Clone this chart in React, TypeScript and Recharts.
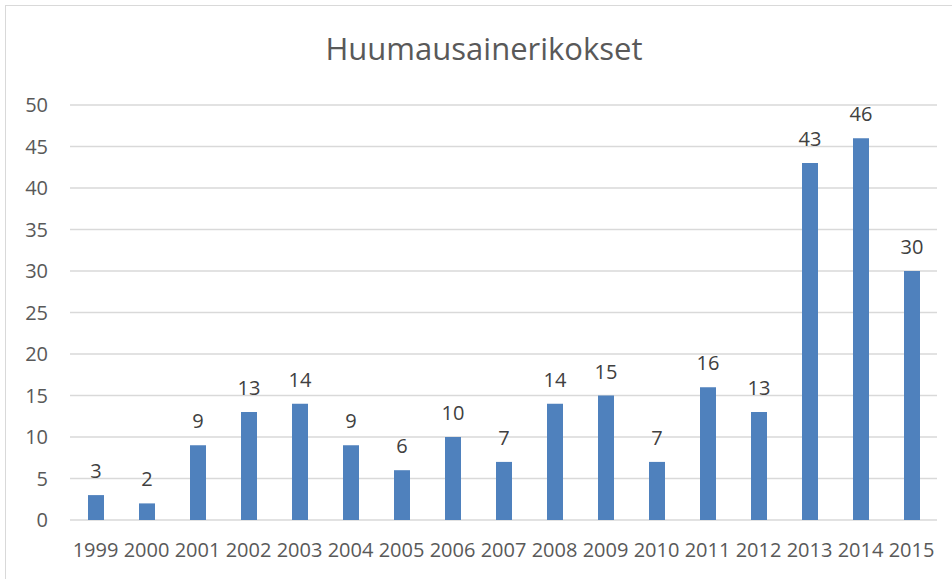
import { Bar, BarChart, CartesianGrid, LabelList, XAxis, YAxis } from "recharts";

const years = ["1999", "2000", "2001", "2002", "2003", "2004", "2005", "2006", "2007", "2008", "2009", "2010", "2011", "2012", "2013", "2014", "2015"];
const offences = [3, 2, 9, 13, 14, 9, 6, 10, 7, 14, 15, 7, 16, 13, 43, 46, 30];
const yTicks = [0, 5, 10, 15, 20, 25, 30, 35, 40, 45, 50];

const data = years.map((year, i) => ({ year, value: offences[i] }));

const FONT = "'Open Sans', sans-serif";

const XTick = ({ x, y, payload }: any) => (
  <text x={x} y={y + 29} textAnchor="middle" fontFamily={FONT} fontSize={20} fill="#595959">
    {payload.value}
  </text>
);

const YTick = ({ x, y, payload }: any) => (
  <text x={48} y={y + 7} textAnchor="end" fontFamily={FONT} fontSize={20} fill="#595959">
    {payload.value}
  </text>
);

export default function App() {
  return (
    <div style={{ position: "fixed", left: 0, top: 0, width: 952, height: 579, overflow: "hidden", background: "#fff" }}>
      <div
        style={{
          position: "absolute",
          left: 5,
          top: 5,
          width: 1000,
          height: 700,
          border: "1.5px solid #D9D9D9",
          boxSizing: "border-box",
        }}
      />
      <div
        style={{
          position: "absolute",
          left: 0,
          top: 28,
          width: 968,
          textAlign: "center",
          fontFamily: FONT,
          fontSize: 31,
          color: "#595959",
          lineHeight: "40px",
        }}
      >
        Huumausainerikokset
      </div>
      <div style={{ position: "absolute", left: 0, top: 0 }}>
        <BarChart width={952} height={579} data={data} margin={{ top: 105, right: 15, left: 0, bottom: 0 }}>
          <CartesianGrid vertical={false} stroke="#D9D9D9" strokeWidth={1.5} />
          <XAxis dataKey="year" axisLine={false} tickLine={false} height={59} tick={<XTick />} interval={0} />
          <YAxis domain={[0, 50]} ticks={yTicks} axisLine={false} tickLine={false} width={70} tick={<YTick />} interval={0} />
          <Bar dataKey="value" fill="#4F81BD" barSize={16} isAnimationActive={false}>
            <LabelList dataKey="value" position="top" offset={17} fontFamily={FONT} fontSize={20} fill="#404040" />
          </Bar>
        </BarChart>
      </div>
    </div>
  );
}
